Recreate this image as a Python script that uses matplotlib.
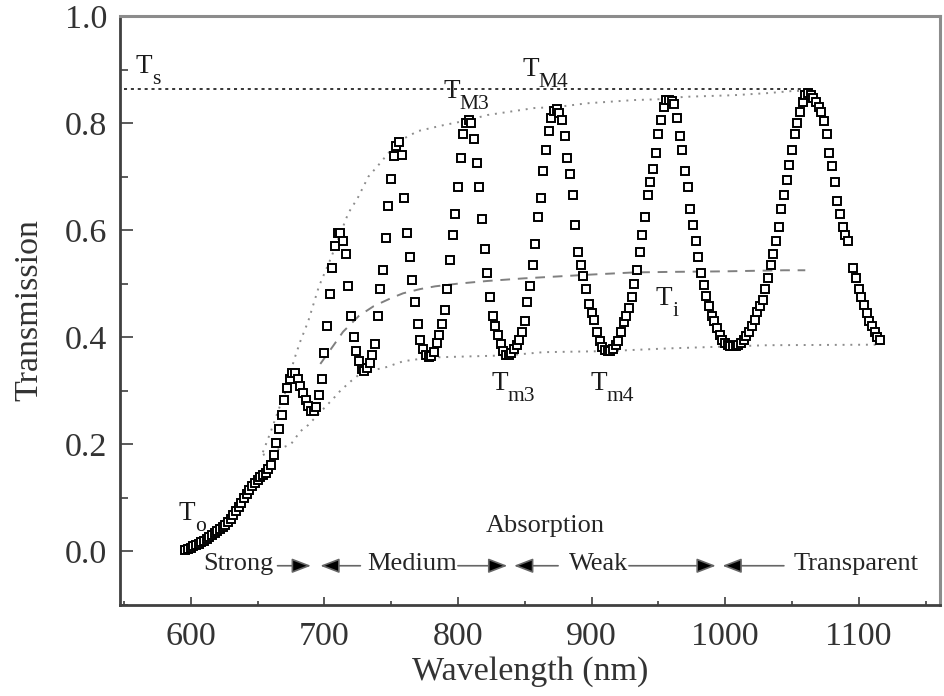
import matplotlib
matplotlib.use("Agg")
import matplotlib.pyplot as plt
from matplotlib.ticker import MultipleLocator, FormatStrFormatter

plt.rcParams["font.family"] = ["Liberation Serif", "DejaVu Serif"]

# measured transmission spectrum (nm, T)
wavelength = [
    596, 598, 600, 602, 604, 606, 608, 610, 612, 614, 616, 618, 620, 622, 624,
    626, 628, 630, 632, 634, 636, 638, 640, 642, 644, 646, 648, 650, 652, 654,
    656, 658, 660, 662, 664, 666, 668, 670, 672, 674, 676, 678, 680, 682, 684,
    686, 688, 690, 692, 694, 696, 698, 700, 702, 704, 706, 708, 710, 712, 714,
    716, 718, 720, 722, 724, 726, 728, 730, 732, 734, 736, 738, 740, 742, 744,
    746, 748, 750, 752, 754, 756, 758, 760, 762, 764, 766, 768, 770, 772, 774,
    776, 778, 780, 782, 784, 786, 788, 790, 792, 794, 796, 798, 800, 802, 804,
    806, 808, 810, 812, 814, 816, 818, 820, 822, 824, 826, 828, 830, 832, 834,
    836, 838, 840, 842, 844, 846, 848, 850, 852, 854, 856, 858, 860, 862, 864,
    866, 868, 870, 872, 874, 876, 878, 880, 882, 884, 886, 888, 890, 892, 894,
    896, 898, 900, 902, 904, 906, 908, 910, 912, 914, 916, 918, 920, 922, 924,
    926, 928, 930, 932, 934, 936, 938, 940, 942, 944, 946, 948, 950, 952, 954,
    956, 958, 960, 962, 964, 966, 968, 970, 972, 974, 976, 978, 980, 982, 984,
    986, 988, 990, 992, 994, 996, 998, 1000, 1002, 1004, 1006, 1008, 1010, 1012,
    1014, 1016, 1018, 1020, 1022, 1024, 1026, 1028, 1030, 1032, 1034, 1036,
    1038, 1040, 1042, 1044, 1046, 1048, 1050, 1052, 1054, 1056, 1058, 1060,
    1062, 1064, 1066, 1068, 1070, 1072, 1074, 1076, 1078, 1080, 1082, 1084,
    1086, 1088, 1090, 1092, 1096, 1098, 1100, 1102, 1104, 1106, 1108, 1110,
    1112, 1114, 1116,
]
transmission = [
    0.003, 0.005, 0.007, 0.009, 0.011, 0.014, 0.017, 0.020, 0.023, 0.026,
    0.030, 0.034, 0.037, 0.041, 0.045, 0.050, 0.055, 0.061, 0.068, 0.075,
    0.083, 0.091, 0.099, 0.107, 0.115, 0.122, 0.128, 0.134, 0.139, 0.143,
    0.147, 0.153, 0.162, 0.180, 0.202, 0.228, 0.255, 0.282, 0.305, 0.322,
    0.333, 0.333, 0.322, 0.308, 0.296, 0.283, 0.272, 0.262, 0.262, 0.270,
    0.292, 0.322, 0.370, 0.420, 0.480, 0.530, 0.570, 0.595, 0.594, 0.580,
    0.555, 0.495, 0.440, 0.400, 0.375, 0.355, 0.340, 0.336, 0.342, 0.352,
    0.366, 0.387, 0.440, 0.490, 0.525, 0.585, 0.645, 0.695, 0.738, 0.758,
    0.765, 0.740, 0.660, 0.595, 0.550, 0.507, 0.465, 0.425, 0.395, 0.377,
    0.366, 0.363, 0.364, 0.372, 0.390, 0.405, 0.425, 0.450, 0.490, 0.545,
    0.590, 0.630, 0.680, 0.735, 0.780, 0.800, 0.805, 0.800, 0.770, 0.725,
    0.680, 0.620, 0.565, 0.520, 0.475, 0.440, 0.420, 0.405, 0.388, 0.375,
    0.367, 0.366, 0.370, 0.377, 0.385, 0.395, 0.410, 0.430, 0.465, 0.495,
    0.535, 0.575, 0.625, 0.660, 0.710, 0.750, 0.785, 0.810, 0.823, 0.827,
    0.818, 0.805, 0.775, 0.735, 0.705, 0.665, 0.610, 0.560, 0.535, 0.515,
    0.490, 0.462, 0.445, 0.432, 0.410, 0.393, 0.382, 0.376, 0.374, 0.375,
    0.377, 0.385, 0.393, 0.410, 0.428, 0.440, 0.455, 0.475, 0.500, 0.525,
    0.560, 0.590, 0.625, 0.665, 0.690, 0.715, 0.745, 0.780, 0.806, 0.830,
    0.843, 0.843, 0.842, 0.835, 0.810, 0.775, 0.750, 0.710, 0.680, 0.640,
    0.610, 0.580, 0.550, 0.520, 0.497, 0.477, 0.458, 0.440, 0.430, 0.417,
    0.405, 0.395, 0.390, 0.386, 0.383, 0.383, 0.384, 0.386, 0.390, 0.395,
    0.402, 0.410, 0.420, 0.433, 0.447, 0.458, 0.470, 0.490, 0.510, 0.535,
    0.555, 0.580, 0.605, 0.640, 0.665, 0.693, 0.722, 0.750, 0.780, 0.800,
    0.820, 0.840, 0.852, 0.856, 0.852, 0.847, 0.840, 0.830, 0.820, 0.804,
    0.780, 0.745, 0.720, 0.690, 0.655, 0.630, 0.605, 0.590, 0.580, 0.530,
    0.510, 0.490, 0.475, 0.460, 0.445, 0.430, 0.420, 0.410, 0.400, 0.395,
]

# substrate transmission T_s
ts_value = 0.864
ts_range = [550, 1062]

# upper envelope T_M
upper_wl = [654, 660, 667, 673, 677, 682, 688, 696, 705, 718, 725, 733, 740,
            745, 755, 770, 789, 807, 822, 857, 874, 897, 932, 957, 969, 1006,
            1032, 1051, 1062]
upper_t = [0.185, 0.224, 0.273, 0.310, 0.355, 0.392, 0.430, 0.495, 0.548,
           0.632, 0.660, 0.700, 0.720, 0.735, 0.765, 0.785, 0.796, 0.805,
           0.815, 0.828, 0.830, 0.837, 0.843, 0.845, 0.849, 0.852, 0.856,
           0.860, 0.860]

# lower envelope T_m
lower_wl = [654, 665, 675, 682, 688, 697, 707, 712, 720, 729, 744, 759, 779,
            807, 837, 864, 912, 957, 1006, 1032, 1113]
lower_t = [0.180, 0.190, 0.200, 0.224, 0.236, 0.260, 0.286, 0.300, 0.318,
           0.336, 0.342, 0.355, 0.362, 0.364, 0.366, 0.372, 0.374, 0.379,
           0.383, 0.385, 0.386]

# interference-free transmission T_i
ti_wl = [697, 707, 714, 726, 737, 750, 759, 772, 783, 800, 822, 850, 900,
         932, 960, 1000, 1044, 1060]
ti_t = [0.350, 0.385, 0.410, 0.440, 0.458, 0.473, 0.482, 0.490, 0.495, 0.500,
        0.505, 0.510, 0.517, 0.521, 0.522, 0.523, 0.525, 0.525]

# curve labels: (subscript, left edge in nm, baseline in T)
curve_labels = [
    ("s", 559, 0.893), ("M3", 789, 0.847), ("M4", 848, 0.888),
    ("m3", 825, 0.301), ("m4", 899, 0.301), ("i", 948, 0.460),
    ("o", 591, 0.058),
]

# absorption bands along the bottom
band_names = ["Strong", "Medium", "Weak", "Transparent"]
band_centers = [636, 766, 905, 1098]
band_arrows = [(665, 690), (727, 697), (800, 837), (875, 842), (928, 993),
               (1044, 998)]

fig = plt.figure(figsize=(9.44, 6.96), dpi=100)
ax = fig.add_axes([0.127, 0.131, 0.869, 0.846])

ax.plot(ts_range, [ts_value, ts_value], color="black", lw=1.1,
        linestyle=(0, (2, 2.5)), zorder=2)
ax.plot(upper_wl, upper_t, color="0.55", lw=1.4, linestyle=(0, (1, 3)), zorder=1)
ax.plot(lower_wl, lower_t, color="0.55", lw=1.4, linestyle=(0, (1, 3)), zorder=1)
ax.plot(ti_wl, ti_t, color="0.5", lw=1.4, linestyle=(0, (5, 4)), zorder=1)

ax.plot(wavelength, transmission, linestyle="none", marker="s", ms=5.8,
        mfc="white", mec="black", mew=1.4, zorder=3)

# T with a subscript drawn as its own smaller text
for sub, x, y in curve_labels:
    t = ax.text(x, y, "T", fontsize=19.5, color="0.1", ha="left",
                va="baseline")
    ax.annotate(sub, xy=(1, 0), xycoords=t, xytext=(0, -3.5),
                textcoords="offset points", fontsize=15.5, color="0.1",
                ha="left", va="baseline")

band = dict(fontsize=19, color="0.15", ha="center", va="center")
ax.text(865, 0.047, "Absorption", **band)
for name, xc in zip(band_names, band_centers):
    ax.text(xc, -0.024, name, **band)

for x0, x1 in band_arrows:
    ax.annotate("", xy=(x1, -0.027), xytext=(x0, -0.027),
                arrowprops=dict(arrowstyle="-|>,head_length=0.65,head_width=0.25",
                                fc="black", ec="0.4", lw=1.2,
                                mutation_scale=18, shrinkA=0, shrinkB=0))

ax.set_xlim(547, 1161)
ax.set_ylim(-0.1, 1.0)
ax.xaxis.set_major_locator(MultipleLocator(100))
ax.xaxis.set_minor_locator(MultipleLocator(50))
ax.yaxis.set_major_locator(MultipleLocator(0.2))
ax.yaxis.set_minor_locator(MultipleLocator(0.1))
ax.yaxis.set_major_formatter(FormatStrFormatter("%.1f"))

ax.tick_params(axis="both", which="both", direction="in", labelsize=24.5,
               labelcolor="0.2", color="0.3", width=1.3)
ax.tick_params(axis="y", which="major", length=9, pad=9)
ax.tick_params(axis="y", which="minor", length=6)
ax.tick_params(axis="x", which="major", length=6, pad=12)
ax.tick_params(axis="x", which="minor", length=3)

for side in ["left", "bottom"]:
    ax.spines[side].set_linewidth(2.0)
    ax.spines[side].set_color("0.25")
for side in ["top", "right"]:
    ax.spines[side].set_linewidth(2.2)
    ax.spines[side].set_color("0.55")

ax.set_xlabel("Wavelength (nm)", fontsize=24.5, color="0.2", labelpad=3)
ax.set_ylabel("Transmission", fontsize=24.5, color="0.2", labelpad=15)

fig.savefig("out.png", dpi=100)
